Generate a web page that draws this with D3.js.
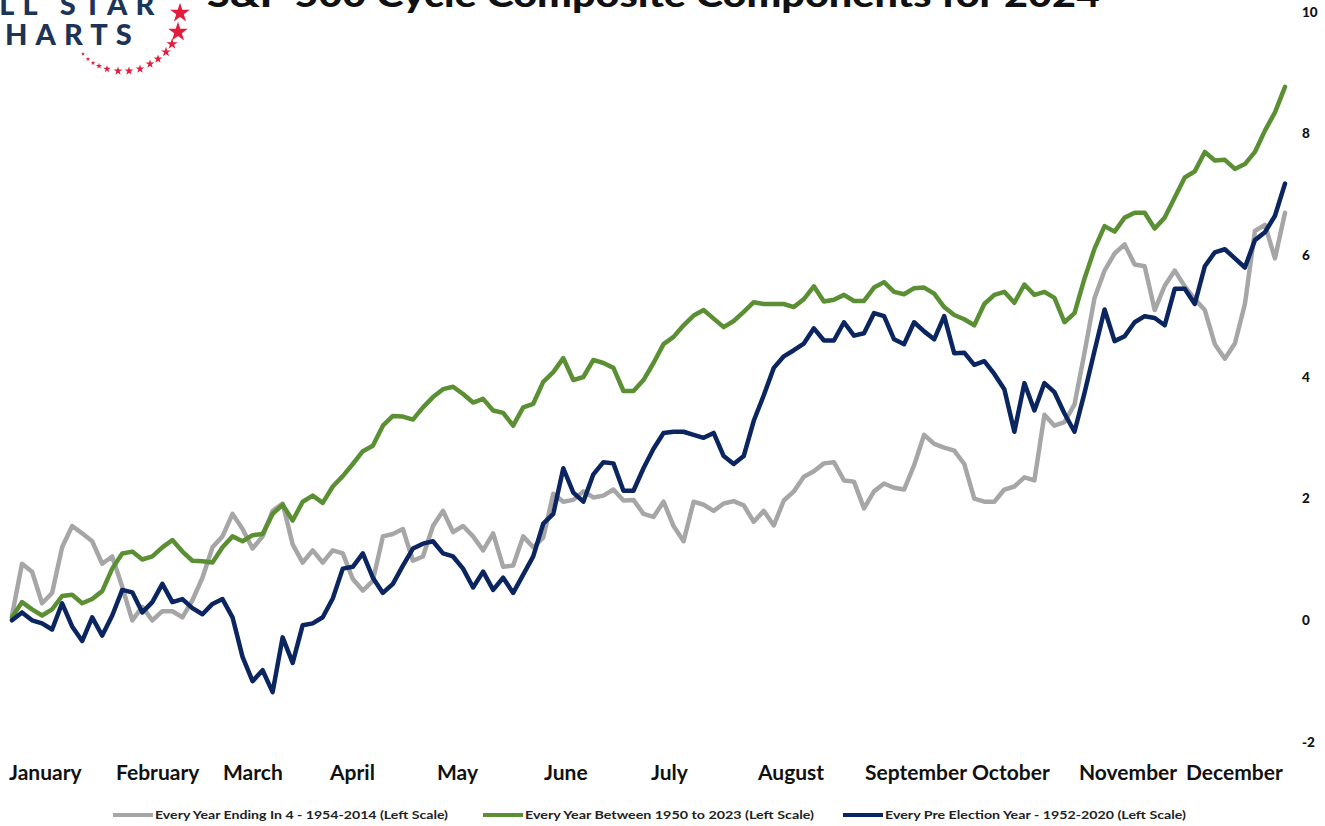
<!DOCTYPE html>
<html>
<head>
<meta charset="utf-8">
<script src="https://cdn.jsdelivr.net/npm/d3@7/dist/d3.min.js"></script>
<style>
  html, body { margin: 0; padding: 0; background: #fff; }
  svg { display: block; font-family: Lato, "Open Sans", sans-serif; }
</style>
</head>
<body>
<svg id="chart" width="1325" height="826"></svg>
<script>
const title = "S&P 500 Cycle Composite Components for 2024";
const months = ["January", "February", "March", "April", "May", "June", "July",
  "August", "September", "October", "November", "December"];
const yTicks = [10, 8, 6, 4, 2, 0, -2];

// sampled roughly every second trading day
const yearEnding4 = [0.08, 0.93, 0.8, 0.28, 0.45, 1.2, 1.55, 1.43, 1.3, 0.93,
  1.05, 0.55, 0.0, 0.22, 0.0, 0.15, 0.15, 0.05, 0.33, 0.7,
  1.2, 1.38, 1.75, 1.5, 1.18, 1.38, 1.8, 1.92, 1.25, 0.95,
  1.15, 0.95, 1.15, 1.1, 0.68, 0.49, 0.65, 1.38, 1.42, 1.5,
  0.98, 1.05, 1.55, 1.8, 1.45, 1.55, 1.38, 1.15, 1.43, 0.88,
  0.9, 1.38, 1.2, 1.36, 2.08, 1.95, 1.98, 2.12, 2.02, 2.05,
  2.15, 1.97, 1.98, 1.75, 1.7, 1.95, 1.55, 1.3, 1.95, 1.9,
  1.8, 1.92, 1.96, 1.89, 1.62, 1.8, 1.56, 1.97, 2.12, 2.36,
  2.45, 2.58, 2.6, 2.3, 2.28, 1.84, 2.12, 2.25, 2.18, 2.15,
  2.55, 3.05, 2.9, 2.84, 2.79, 2.57, 2.0, 1.95, 1.95, 2.15,
  2.2, 2.35, 2.3, 3.38, 3.2, 3.26, 3.55, 4.4, 5.3, 5.75,
  6.03, 6.18, 5.85, 5.82, 5.1, 5.5, 5.75, 5.49, 5.28, 5.1,
  4.54, 4.3, 4.55, 5.2, 6.4, 6.5, 5.95, 6.7];

const allYears = [0.05, 0.3, 0.18, 0.08, 0.18, 0.4, 0.42, 0.28, 0.35, 0.48,
  0.85, 1.1, 1.13, 1.0, 1.05, 1.2, 1.32, 1.13, 0.98, 0.97,
  0.95, 1.2, 1.38, 1.3, 1.4, 1.42, 1.75, 1.9, 1.64, 1.95,
  2.05, 1.93, 2.2, 2.37, 2.57, 2.78, 2.87, 3.2, 3.36, 3.35,
  3.3, 3.5, 3.67, 3.8, 3.84, 3.72, 3.58, 3.64, 3.45, 3.41,
  3.2, 3.5, 3.56, 3.92, 4.08, 4.31, 3.95, 4.0, 4.28, 4.23,
  4.15, 3.77, 3.77, 3.95, 4.23, 4.54, 4.66, 4.85, 5.01, 5.1,
  4.96, 4.82, 4.92, 5.07, 5.23, 5.2, 5.2, 5.2, 5.15, 5.28,
  5.49, 5.24, 5.27, 5.35, 5.25, 5.25, 5.47, 5.56, 5.4, 5.36,
  5.46, 5.47, 5.37, 5.15, 5.02, 4.95, 4.85, 5.2, 5.35, 5.4,
  5.22, 5.52, 5.35, 5.4, 5.3, 4.9, 5.05, 5.62, 6.11, 6.48,
  6.39, 6.62, 6.7, 6.7, 6.44, 6.62, 6.95, 7.28, 7.38, 7.7,
  7.56, 7.57, 7.42, 7.5, 7.7, 8.05, 8.35, 8.77];

const preElection = [0.0, 0.13, 0.0, -0.05, -0.15, 0.28, -0.1, -0.34, 0.05, -0.25,
  0.08, 0.5, 0.46, 0.13, 0.3, 0.6, 0.3, 0.35, 0.2, 0.1,
  0.27, 0.35, 0.05, -0.6, -1.0, -0.82, -1.18, -0.28, -0.7, -0.08,
  -0.05, 0.05, 0.36, 0.85, 0.88, 1.1, 0.7, 0.45, 0.6, 0.9,
  1.18, 1.26, 1.3, 1.1, 1.05, 0.85, 0.54, 0.8, 0.5, 0.7,
  0.45, 0.75, 1.05, 1.59, 1.75, 2.5, 2.1, 1.95, 2.4, 2.6,
  2.58, 2.13, 2.13, 2.5, 2.82, 3.08, 3.1, 3.1, 3.05, 3.0,
  3.08, 2.7, 2.57, 2.7, 3.28, 3.7, 4.15, 4.34, 4.44, 4.55,
  4.8, 4.6, 4.6, 4.9, 4.68, 4.72, 5.05, 5.0, 4.62, 4.54,
  4.9, 4.75, 4.62, 5.0, 4.39, 4.4, 4.2, 4.26, 4.05, 3.8,
  3.1, 3.9, 3.45, 3.9, 3.75, 3.4, 3.1, 3.74, 4.43, 5.11,
  4.59, 4.67, 4.9, 5.0, 4.97, 4.85, 5.45, 5.45, 5.2, 5.82,
  6.05, 6.1, 5.95, 5.8, 6.25, 6.38, 6.65, 7.18];

const series = [
  { name: "Every Year Ending In 4 - 1954-2014 (Left Scale)", values: yearEnding4, color: "#a6a6a6" },
  { name: "Every Year Between 1950 to 2023 (Left Scale)", values: allYears, color: "#5b8f34" },
  { name: "Every Pre Election Year - 1952-2020 (Left Scale)", values: preElection, color: "#0b2561" }
];

const svg = d3.select("#chart");

const x = d3.scaleLinear().domain([0, preElection.length - 1]).range([12, 1285]);
const y = d3.scaleLinear().domain([-2, 10]).range([742, 12]);
const xMonth = d3.scaleBand().domain(months).range([9, 9 + 12 * 107]);

// logo (cropped at the top-left corner, like the source image)
const logo = svg.append("g");
const logoText = logo.append("text")
  .attr("font-size", 29).attr("font-weight", 900).attr("letter-spacing", 8)
  .attr("fill", "#1c3458");
logoText.append("tspan").attr("x", -29).attr("y", 15).text("ALL STAR");
logoText.append("tspan").attr("x", -22).attr("y", 45).text("CHARTS");

const stars = [[180, 13, 8], [178, 32, 8], [172, 44, 4.5], [166, 52, 4], [158, 59, 3.5],
  [150, 64, 3.5], [140, 69, 3.5], [129, 71, 3.5], [118, 71, 3.5], [107, 69, 3],
  [99, 66, 2.5], [93, 63, 2], [88, 59, 1.8], [83, 54, 1.6]];
logo.selectAll("path.star").data(stars).join("path")
  .attr("class", "star")
  .attr("transform", d => `translate(${d[0]},${d[1]})`)
  .attr("d", d => d3.symbol(d3.symbolStar, Math.PI * d[2] * d[2] * 0.6)())
  .attr("fill", "#e31b3d");

// title, cut off at the top like the original
svg.append("text")
  .attr("x", 207).attr("y", 7)
  .attr("font-size", 34).attr("font-weight", 900)
  .attr("textLength", 893).attr("lengthAdjust", "spacingAndGlyphs")
  .attr("fill", "#111").text(title);

// right axis labels
svg.append("g").selectAll("text").data(yTicks).join("text")
  .attr("x", 1302).attr("y", d => y(d)).attr("dy", "0.35em")
  .attr("font-size", 13.5).attr("font-weight", 900).attr("fill", "#111")
  .text(d => d);

// month labels
svg.append("g").selectAll("text").data(months).join("text")
  .attr("x", d => xMonth(d)).attr("y", 780)
  .attr("font-size", 21).attr("font-weight", 700).attr("fill", "#111")
  .text(d => d);

// lines
const line = d3.line().x((d, i) => x(i)).y(d => y(d)).curve(d3.curveLinear);
svg.append("g").selectAll("path").data(series).join("path")
  .attr("d", d => line(d.values))
  .attr("fill", "none")
  .attr("stroke", d => d.color)
  .attr("stroke-width", 4.5)
  .attr("stroke-linejoin", "round")
  .attr("stroke-linecap", "round");

// legend
const legendX = [113, 483, 843];
const legendW = [293, 289, 301];
const legend = svg.append("g").selectAll("g").data(series).join("g")
  .attr("transform", (d, i) => `translate(${legendX[i]},815)`);
legend.append("line").attr("x1", 0).attr("x2", 40).attr("y1", 0).attr("y2", 0)
  .attr("stroke", d => d.color).attr("stroke-width", 4);
legend.append("text").attr("x", 42).attr("dy", "0.35em")
  .attr("font-size", 12).attr("font-weight", 700).attr("fill", "#222")
  .attr("textLength", (d, i) => legendW[i]).attr("lengthAdjust", "spacingAndGlyphs")
  .text(d => d.name);
</script>
</body>
</html>
